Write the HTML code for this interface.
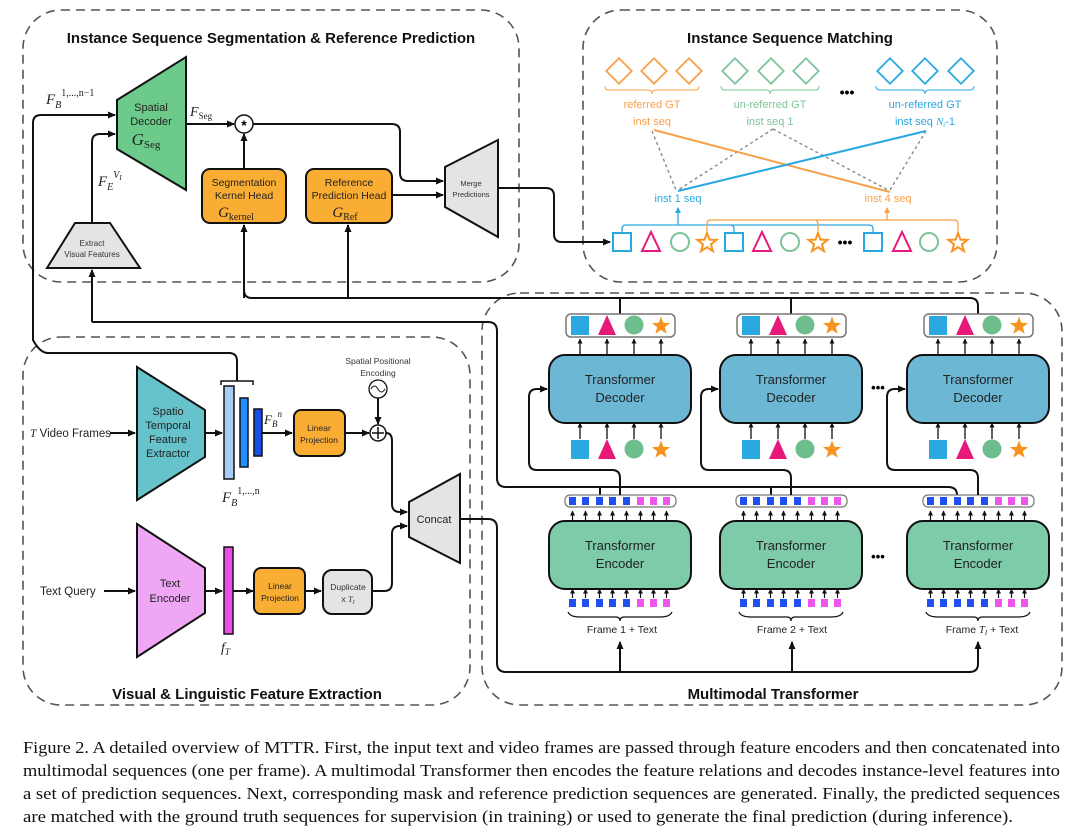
<!DOCTYPE html>
<html><head><meta charset="utf-8"><style>
html,body{margin:0;padding:0;background:#fff;}
svg{display:block;font-family:"Liberation Sans",sans-serif;}
.m{font-family:"Liberation Serif",serif;font-style:italic;}
</style></head><body>
<svg width="1080" height="833" viewBox="0 0 1080 833" xmlns="http://www.w3.org/2000/svg">
<defs>
<marker id="a" markerWidth="8" markerHeight="8" refX="7" refY="4" orient="auto" markerUnits="userSpaceOnUse"><path d="M0,0.5 L8,4 L0,7.5 Z" fill="#111"/></marker>
<marker id="s" markerWidth="5" markerHeight="5" refX="4.5" refY="2.5" orient="auto" markerUnits="userSpaceOnUse"><path d="M0,0 L5,2.5 L0,5 Z" fill="#111"/></marker>
<marker id="ab" markerWidth="6" markerHeight="6" refX="5" refY="3" orient="auto" markerUnits="userSpaceOnUse"><path d="M0,0 L6,3 L0,6 Z" fill="#2AA8E0"/></marker>
<marker id="ao" markerWidth="6" markerHeight="6" refX="5" refY="3" orient="auto" markerUnits="userSpaceOnUse"><path d="M0,0 L6,3 L0,6 Z" fill="#F7A04A"/></marker>
<polygon id="star" points="0,-10 2.47,-3.4 9.51,-3.09 4,1.3 5.88,8.09 0,4.2 -5.88,8.09 -4,1.3 -9.51,-3.09 -2.47,-3.4"/>
<g id="obj">
<rect x="-49" y="-9" width="18" height="19" fill="#2AA8E0"/>
<polygon points="-22,10 -13,-10 -4,10" fill="#E6197A"/>
<circle cx="14" cy="0" r="9.5" fill="#6DBE8C"/>
<use href="#star" transform="translate(41,1) scale(0.95)" fill="#F7931E"/>
</g>
<g id="tokrow">
<rect x="-51" y="-4" width="7" height="8" fill="#1f4ff0"/>
<rect x="-38" y="-4" width="7" height="8" fill="#1f4ff0"/>
<rect x="-24" y="-4" width="7" height="8" fill="#1f4ff0"/>
<rect x="-11" y="-4" width="7" height="8" fill="#1f4ff0"/>
<rect x="3" y="-4" width="7" height="8" fill="#1f4ff0"/>
<rect x="17" y="-4" width="7" height="8" fill="#EE55EE"/>
<rect x="30" y="-4" width="7" height="8" fill="#EE55EE"/>
<rect x="43" y="-4" width="7" height="8" fill="#EE55EE"/>
</g>
<g id="tokarrows" stroke="#111" stroke-width="1.2" marker-end="url(#s)">
<line x1="-47.5" y1="0" x2="-47.5" y2="-9"/><line x1="-34.5" y1="0" x2="-34.5" y2="-9"/><line x1="-20.5" y1="0" x2="-20.5" y2="-9"/><line x1="-7.5" y1="0" x2="-7.5" y2="-9"/><line x1="6.5" y1="0" x2="6.5" y2="-9"/><line x1="20.5" y1="0" x2="20.5" y2="-9"/><line x1="33.5" y1="0" x2="33.5" y2="-9"/><line x1="46.5" y1="0" x2="46.5" y2="-9"/>
</g>
<g id="objarrows" stroke="#111" stroke-width="1.3" marker-end="url(#s)">
<line x1="-40" y1="0" x2="-40" y2="-16"/><line x1="-13" y1="0" x2="-13" y2="-16"/><line x1="14" y1="0" x2="14" y2="-16"/><line x1="41" y1="0" x2="41" y2="-16"/>
</g>
</defs>

<g fill="none" stroke="#555" stroke-width="1.6" stroke-dasharray="9,6">
<rect x="23" y="10" width="496" height="272" rx="38"/>
<rect x="583" y="10" width="414" height="272" rx="38"/>
<rect x="23" y="337" width="447" height="368" rx="38"/>
<rect x="482" y="293" width="580" height="412" rx="38"/>
</g>

<g font-weight="bold" font-size="15" text-anchor="middle" fill="#111">
<text x="271" y="43">Instance Sequence Segmentation &amp; Reference Prediction</text>
<text x="790" y="43">Instance Sequence Matching</text>
<text x="247" y="699">Visual &amp; Linguistic Feature Extraction</text>
<text x="773" y="699">Multimodal Transformer</text>
</g>

<polygon points="117,100 186,57 186,190 117,149" fill="#6CCB8A" stroke="#111" stroke-width="2"/>
<text x="151" y="111" font-size="11" text-anchor="middle" fill="#222">Spatial</text>
<text x="151" y="125" font-size="11" text-anchor="middle" fill="#222">Decoder</text>
<text x="146" y="145" font-size="17" text-anchor="middle" class="m" fill="#222">G<tspan font-size="11" font-style="normal" dy="3">Seg</tspan></text>
<text x="46" y="104" font-size="15" class="m" fill="#222">F<tspan font-size="10" dy="4">B</tspan><tspan font-size="10" dy="-12" font-style="normal">1,...,n−1</tspan></text>
<text x="98" y="186" font-size="15" class="m" fill="#222">F<tspan font-size="10" dy="4">E</tspan><tspan font-size="10" dy="-12">V<tspan font-size="7" dy="2">I</tspan></tspan></text>
<text x="190" y="116" font-size="14" class="m" fill="#222">F<tspan font-size="9" dy="3" font-style="normal">Seg</tspan></text>

<g fill="none" stroke="#111" stroke-width="2">
<path d="M33,330 V123 Q33,115 41,115 H115" marker-end="url(#a)"/>
<path d="M92,222 V142 Q92,134 100,134 H115" marker-end="url(#a)"/>
<path d="M186,124 H234" marker-end="url(#a)"/>
<path d="M244,169 V134" marker-end="url(#a)"/>
<path d="M253,124 H392 Q400,124 400,132 V173 Q400,181 408,181 H443" marker-end="url(#a)"/>
<path d="M392,195 H443" marker-end="url(#a)"/>
<path d="M498,188 H546 Q554,188 554,196 V234 Q554,242 562,242 H610" marker-end="url(#a)"/>
<path d="M244,298 V225" marker-end="url(#a)"/>
<path d="M348,298 V225" marker-end="url(#a)"/>
<path d="M244,290 Q244,298 252,298 H970 Q978,298 978,306 V314"/>
<path d="M620,298 V314 M791,298 V314"/>
<path d="M92,322 V270" marker-end="url(#a)"/>
</g>
<circle cx="244" cy="124" r="9" fill="#fff" stroke="#111" stroke-width="1.5"/>
<text x="244" y="130" font-size="14" text-anchor="middle" font-weight="bold">*</text>

<rect x="202" y="169" width="84" height="54" rx="8" fill="#F9AE33" stroke="#111" stroke-width="2"/>
<text x="244" y="186" font-size="10.5" text-anchor="middle" fill="#222">Segmentation</text>
<text x="244" y="199" font-size="10.5" text-anchor="middle" fill="#222">Kernel Head</text>
<text x="236" y="217" font-size="15" text-anchor="middle" class="m" fill="#222">G<tspan font-size="10" font-style="normal" dy="3">kernel</tspan></text>
<rect x="306" y="169" width="86" height="54" rx="8" fill="#F9AE33" stroke="#111" stroke-width="2"/>
<text x="349" y="186" font-size="10.5" text-anchor="middle" fill="#222">Reference</text>
<text x="349" y="199" font-size="10.5" text-anchor="middle" fill="#222">Prediction Head</text>
<text x="345" y="217" font-size="15" text-anchor="middle" class="m" fill="#222">G<tspan font-size="10" font-style="normal" dy="3">Ref</tspan></text>

<polygon points="445,167 498,140 498,237 445,207" fill="#E4E4E4" stroke="#111" stroke-width="2"/>
<text x="471" y="186" font-size="7.5" text-anchor="middle" fill="#333">Merge</text>
<text x="471" y="197" font-size="7.5" text-anchor="middle" fill="#333">Predictions</text>

<polygon points="47,268 75,223 110,223 140,268" fill="#E4E4E4" stroke="#111" stroke-width="2"/>
<text x="92" y="246" font-size="8" text-anchor="middle" fill="#333">Extract</text>
<text x="92" y="257" font-size="8" text-anchor="middle" fill="#333">Visual Features</text>

<g fill="none" stroke-width="1.8">
<g stroke="#F7A04A"><rect x="610" y="62" width="18" height="18" transform="rotate(45 619 71)"/><rect x="645" y="62" width="18" height="18" transform="rotate(45 654 71)"/><rect x="680" y="62" width="18" height="18" transform="rotate(45 689 71)"/></g>
<g stroke="#7DC49A"><rect x="726" y="62" width="18" height="18" transform="rotate(45 735 71)"/><rect x="762" y="62" width="18" height="18" transform="rotate(45 771 71)"/><rect x="797" y="62" width="18" height="18" transform="rotate(45 806 71)"/></g>
<g stroke="#2AA8E0"><rect x="881" y="62" width="18" height="18" transform="rotate(45 890 71)"/><rect x="916" y="62" width="18" height="18" transform="rotate(45 925 71)"/><rect x="952" y="62" width="18" height="18" transform="rotate(45 961 71)"/></g>
</g>
<g fill="none" stroke-width="1">
<path d="M605,86 Q605,90 609,90 H648 Q652,90 652,94 Q652,90 656,90 H695 Q699,90 699,86" stroke="#F7A04A"/>
<path d="M721,86 Q721,90 725,90 H766 Q770,90 770,94 Q770,90 774,90 H815 Q819,90 819,86" stroke="#7DC49A"/>
<path d="M876,86 Q876,90 880,90 H921 Q925,90 925,94 Q925,90 929,90 H970 Q974,90 974,86" stroke="#2AA8E0"/>
</g>
<text x="847" y="97" font-size="14" text-anchor="middle" font-weight="bold">•••</text>
<g font-size="11" text-anchor="middle">
<text x="652" y="108" fill="#F7A04A">referred GT</text><text x="652" y="125" fill="#F7A04A">inst seq</text>
<text x="770" y="108" fill="#7DC49A">un-referred GT</text><text x="770" y="125" fill="#7DC49A">inst seq 1</text>
<text x="925" y="108" fill="#2AA8E0">un-referred GT</text><text x="925" y="125" fill="#2AA8E0">inst seq <tspan class="m">N<tspan font-size="7" dy="2">t</tspan></tspan><tspan dy="-2">-1</tspan></text>
<text x="678" y="202" fill="#2AA8E0">inst 1 seq</text>
<text x="888" y="202" fill="#F7A04A">inst 4 seq</text>
</g>
<g stroke="#888" stroke-width="1.4" stroke-dasharray="3,3" fill="none">
<path d="M652,131 L676,190"/><path d="M773,129 L678,190"/><path d="M773,129 L888,190"/><path d="M926,131 L890,190"/>
</g>
<line x1="654" y1="130" x2="890" y2="192" stroke="#F7A04A" stroke-width="2"/>
<line x1="926" y1="131" x2="678" y2="191" stroke="#2AA8E0" stroke-width="2"/>

<g fill="none" stroke-width="1.3">
<path d="M622,232 V229 Q622,225 626,225 H869 Q873,225 873,229 V232 M730,225 Q734,225 734,229 V232" stroke="#2AA8E0"/>
<path d="M678,225 V208" stroke="#2AA8E0" marker-end="url(#ab)"/>
<path d="M707,231 V224 Q707,220 711,220 H954 Q958,220 958,224 V231 M814,220 Q818,220 818,224 V231" stroke="#F7A04A"/>
<path d="M887,220 V208" stroke="#F7A04A" marker-end="url(#ao)"/>
</g>
<g fill="none" stroke-width="2">
<g stroke="#2AA8E0"><rect x="613" y="233" width="18" height="18"/><rect x="725" y="233" width="18" height="18"/><rect x="864" y="233" width="18" height="18"/></g>
<g stroke="#E6197A"><polygon points="642,251 651,232 660,251"/><polygon points="753,251 762,232 771,251"/><polygon points="893,251 902,232 911,251"/></g>
<g stroke="#7DC49A"><circle cx="680" cy="242" r="9"/><circle cx="790" cy="242" r="9"/><circle cx="929" cy="242" r="9"/></g>
<g stroke="#F7931E"><use href="#star" transform="translate(707,243)"/><use href="#star" transform="translate(818,243)"/><use href="#star" transform="translate(958,243)"/></g>
</g>
<text x="845" y="247" font-size="14" text-anchor="middle" font-weight="bold">•••</text>

<text x="30" y="437" font-size="11.5" fill="#222"><tspan class="m">T</tspan> Video Frames</text>
<text x="40" y="595" font-size="11.5" fill="#222">Text Query</text>
<g fill="none" stroke="#111" stroke-width="2">
<path d="M110,433 H135" marker-end="url(#a)"/>
<path d="M104,591 H135" marker-end="url(#a)"/>
<path d="M205,433 H222" marker-end="url(#a)"/>
<path d="M262,433 H292" marker-end="url(#a)"/>
<path d="M345,433 H369" marker-end="url(#a)"/>
<path d="M378,398 V424" marker-end="url(#a)"/>
<path d="M386,433 Q392,433 392,441 V504 Q392,512 400,512 H407" marker-end="url(#a)"/>
<path d="M205,591 H222" marker-end="url(#a)"/>
<path d="M233,591 H253" marker-end="url(#a)"/>
<path d="M305,591 H321" marker-end="url(#a)"/>
<path d="M372,591 H384 Q392,591 392,583 V534 Q392,526 400,526 H407" marker-end="url(#a)"/>
<path d="M237,381 V361 Q237,353 229,353 H48 Q40,353 33,340 V325"/>
<path d="M221,385 V381 H253 V385" stroke-width="1.5"/>
<path d="M92,322 H488 Q497,322 497,331 V478 Q497,487 506,487 H948 Q957,487 957,495"/>
<path d="M600,487 V495 M771,487 V495"/>
<path d="M460,519 H488 Q497,519 497,528 V663 Q497,672 506,672 H969 Q978,672 978,664 V642" marker-end="url(#a)"/>
<path d="M620,672 V642" marker-end="url(#a)"/>
<path d="M792,672 V642" marker-end="url(#a)"/>
</g>
<polygon points="137,367 205,410 205,457 137,500" fill="#66C3CB" stroke="#111" stroke-width="2"/>
<g font-size="11" text-anchor="middle" fill="#222">
<text x="168" y="415">Spatio</text><text x="168" y="429">Temporal</text><text x="168" y="443">Feature</text><text x="168" y="457">Extractor</text>
</g>
<rect x="224" y="386" width="10" height="93" fill="#A8CDF5" stroke="#111" stroke-width="1.5"/>
<rect x="240" y="398" width="8" height="69" fill="#1E90FF" stroke="#111" stroke-width="1.5"/>
<rect x="254" y="409" width="8" height="47" fill="#1A4FE6" stroke="#111" stroke-width="1.5"/>
<text x="222" y="502" font-size="15" class="m" fill="#222">F<tspan font-size="10" dy="4">B</tspan><tspan font-size="10" dy="-12" font-style="normal">1,...,n</tspan></text>
<text x="264" y="424" font-size="13" class="m" fill="#222">F<tspan font-size="9" dy="3">B</tspan><tspan font-size="9" dy="-10">n</tspan></text>
<rect x="294" y="410" width="51" height="46" rx="7" fill="#F9AE33" stroke="#111" stroke-width="2"/>
<text x="319" y="431" font-size="8.5" text-anchor="middle" fill="#222">Linear</text>
<text x="319" y="443" font-size="8.5" text-anchor="middle" fill="#222">Projection</text>
<text x="378" y="364" font-size="8.5" text-anchor="middle" fill="#333">Spatial Positional</text>
<text x="378" y="376" font-size="8.5" text-anchor="middle" fill="#333">Encoding</text>
<circle cx="378" cy="389" r="9" fill="#fff" stroke="#111" stroke-width="1.3"/>
<path d="M371,389 Q374.5,383 378,389 T385,389" fill="none" stroke="#111" stroke-width="1"/>
<circle cx="378" cy="433" r="8" fill="#fff" stroke="#111" stroke-width="1.5"/>
<path d="M372,433 H384 M378,427 V439" stroke="#111" stroke-width="1.5"/>
<polygon points="409,502 460,474 460,563 409,537" fill="#E4E4E4" stroke="#111" stroke-width="2"/>
<text x="434" y="523" font-size="11" text-anchor="middle" fill="#222">Concat</text>

<polygon points="137,524 205,568 205,613 137,657" fill="#EFA6F5" stroke="#111" stroke-width="2"/>
<text x="170" y="587" font-size="11" text-anchor="middle" fill="#222">Text</text>
<text x="170" y="602" font-size="11" text-anchor="middle" fill="#222">Encoder</text>
<rect x="224" y="547" width="9" height="87" fill="#E94DE8" stroke="#111" stroke-width="1.5"/>
<text x="221" y="652" font-size="14" class="m" fill="#222">f<tspan font-size="9" dy="3">T</tspan></text>
<rect x="254" y="568" width="51" height="46" rx="7" fill="#F9AE33" stroke="#111" stroke-width="2"/>
<text x="280" y="589" font-size="8.5" text-anchor="middle" fill="#222">Linear</text>
<text x="280" y="601" font-size="8.5" text-anchor="middle" fill="#222">Projection</text>
<rect x="323" y="570" width="49" height="44" rx="9" fill="#E4E4E4" stroke="#111" stroke-width="2"/>
<text x="348" y="590" font-size="8.5" text-anchor="middle" fill="#333">Duplicate</text>
<text x="348" y="602" font-size="8.5" text-anchor="middle" fill="#333">x <tspan class="m">T<tspan font-size="6" dy="2">I</tspan></tspan></text>

<g id="col1">
<rect x="566" y="314" width="109" height="23" rx="5" fill="#fff" stroke="#777" stroke-width="1.5"/>
<use href="#obj" transform="translate(620,325)"/>
<use href="#objarrows" transform="translate(620,355)"/>
<rect x="549" y="355" width="142" height="68" rx="16" fill="#6BB7D4" stroke="#111" stroke-width="2"/>
<text x="620" y="384" font-size="13" text-anchor="middle" fill="#222">Transformer</text>
<text x="620" y="402" font-size="13" text-anchor="middle" fill="#222">Decoder</text>
<use href="#objarrows" transform="translate(620,439)"/>
<use href="#obj" transform="translate(620,449)"/>
<rect x="565" y="495" width="111" height="12" rx="5" fill="#fff" stroke="#777" stroke-width="1.2"/>
<use href="#tokrow" transform="translate(620,501)"/>
<use href="#tokarrows" transform="translate(620,520)"/>
<rect x="549" y="521" width="142" height="68" rx="16" fill="#7DCBA8" stroke="#111" stroke-width="2"/>
<text x="620" y="550" font-size="13" text-anchor="middle" fill="#222">Transformer</text>
<text x="620" y="568" font-size="13" text-anchor="middle" fill="#222">Encoder</text>
<use href="#tokarrows" transform="translate(620,598)"/>
<use href="#tokrow" transform="translate(620,603)"/>
<path d="M568,612 Q570,617 580,617 H616 Q620,617 620,621 Q620,617 624,617 H660 Q670,617 672,612" fill="none" stroke="#111" stroke-width="1.2"/>
</g>
<use href="#col1" transform="translate(171,0)"/>
<use href="#col1" transform="translate(358,0)"/>
<g font-size="10.5" text-anchor="middle" fill="#222">
<text x="622" y="633">Frame 1 + Text</text>
<text x="792" y="633">Frame 2 + Text</text>
<text x="982" y="633">Frame <tspan class="m">T<tspan font-size="7" dy="2">I</tspan></tspan><tspan dy="-2"> + Text</tspan></text>
</g>
<g fill="none" stroke="#111" stroke-width="2">
<path d="M620,495 V478 Q620,470 612,470 H537 Q529,470 529,462 V397 Q529,389 537,389 H547" marker-end="url(#a)"/>
<path d="M791,495 V478 Q791,470 783,470 H709 Q701,470 701,462 V397 Q701,389 709,389 H718" marker-end="url(#a)"/>
<path d="M978,495 V478 Q978,470 970,470 H895 Q887,470 887,462 V397 Q887,389 895,389 H905" marker-end="url(#a)"/>
</g>
<text x="878" y="392" font-size="13" text-anchor="middle" font-weight="bold">•••</text>
<text x="878" y="561" font-size="13" text-anchor="middle" font-weight="bold">•••</text>

<g font-family="Liberation Serif, serif" font-size="16.5" fill="#111">
<text x="23" y="753" textLength="1037" lengthAdjust="spacingAndGlyphs">Figure 2. A detailed overview of MTTR. First, the input text and video frames are passed through feature encoders and then concatenated into</text>
<text x="23" y="776" textLength="1037" lengthAdjust="spacingAndGlyphs">multimodal sequences (one per frame). A multimodal Transformer then encodes the feature relations and decodes instance-level features into</text>
<text x="23" y="799" textLength="1037" lengthAdjust="spacingAndGlyphs">a set of prediction sequences. Next, corresponding mask and reference prediction sequences are generated. Finally, the predicted sequences</text>
<text x="23" y="822" textLength="990" lengthAdjust="spacingAndGlyphs">are matched with the ground truth sequences for supervision (in training) or used to generate the final prediction (during inference).</text>
</g>
</svg>
</body></html>
